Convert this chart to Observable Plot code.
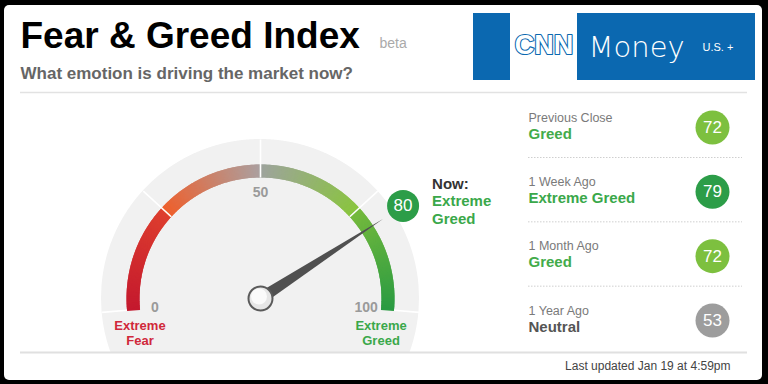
<!DOCTYPE html>
<html><head><meta charset="utf-8">
<script src="https://cdn.jsdelivr.net/npm/d3@7"></script>
<script src="https://cdn.jsdelivr.net/npm/@observablehq/plot@0.6"></script>
<style>
html,body{margin:0;padding:0;background:#000;}
#chart svg{display:block;}
</style></head><body><div id="chart"></div>
<script>
// ---------------- data ----------------
const titleText = "Fear & Greed Index";
const titleTag = "beta";
const subtitleText = "What emotion is driving the market now?";
const gaugeTicks = [0, 50, 100];
const gaugeDividers = [0, 25, 50, 75, 100];
const zoneValues = [0, 100];
const zoneLabels = ["Extreme\nFear", "Extreme\nGreed"];
const nowValue = 80;
const nowRating = "Extreme Greed";
const historyLabels = ["Previous Close", "1 Week Ago", "1 Month Ago", "1 Year Ago"];
const historyRatings = ["Greed", "Extreme Greed", "Greed", "Neutral"];
const historyValues = [72, 79, 72, 53];
const lastUpdated = "Last updated Jan 19 at 4:59pm";
const brandName = "CNN";
const brandProduct = "Money";
const brandEdition = "U.S. +";

// ---------------- styles & layout ----------------
const FONT = "Liberation Sans, Arial, Helvetica, sans-serif";
const BLUE = "#0b68b0";
const ratingFill = {"Extreme Fear": "#c8202f", "Fear": "#e8602c", "Neutral": "#9d9d9d", "Greed": "#7dc03f", "Extreme Greed": "#2c9d48"};
const ratingText = {"Extreme Fear": "#cf2a3a", "Fear": "#e8602c", "Neutral": "#555555", "Greed": "#43ab4b", "Extreme Greed": "#3aa84a"};
const zoneText = ["#d0283a", "#3aa84a"];
const C = {x: 260, y: 298};
const R = {disc: 159, arcOuter: 134, arcInner: 121, tick: 106, needle: 146, bubble: 170};
const BOTTOM_LINE = 352;
const angle = d3.scaleLinear().domain([0, 100]).range([185, -5]); // degrees, counter-clockwise from east
const polar = (v, r) => { const a = angle(v) * Math.PI / 180; return [C.x + r * Math.cos(a), C.y - r * Math.sin(a)]; };
const arcColor = v => v < 25 ? d3.interpolateRgb("#c4192e", "#de3f2f")(v / 25)
  : v < 50 ? d3.interpolateRgb("#ef5f2c", "#aba0a0")((v - 25) / 25)
  : v < 75 ? d3.interpolateRgb("#9ea39e", "#8ac53f")((v - 50) / 25)
  : d3.interpolateRgb("#76ba3d", "#2a9b42")((v - 75) / 25);

// gauge track samples (geometry only)
const trackSamples = d3.range(0, 100.0001, 0.2);
const discSamples = d3.range(-R.disc, R.disc + 0.001, 0.5);
const rowY = d3.scalePoint().domain(d3.range(historyLabels.length)).range([127, 320]);
const bubble = polar(nowValue, R.bubble);

const chart = Plot.plot({
  width: 768, height: 384, margin: 0,
  x: {domain: [0, 768], axis: null},
  y: {domain: [0, 384], reverse: true, axis: null},
  style: {background: "#000", fontFamily: FONT},
  marks: [
    // white card
    Plot.rect([0], {x1: 4, x2: 762, y1: 5, y2: 380, fill: "white", rx: 5}),
    // header
    Plot.text([titleText], {x: 20, y: 47, text: d => d, textAnchor: "start", lineAnchor: "bottom", fontSize: 37, fontWeight: "bold", fill: "#000"}),
    Plot.text([titleTag], {x: 379, y: 47, text: d => d, textAnchor: "start", lineAnchor: "bottom", fontSize: 14, fill: "#aaa"}),
    Plot.text([subtitleText], {x: 20, y: 78, text: d => d, textAnchor: "start", lineAnchor: "bottom", fontSize: 17, fontWeight: "bold", fill: "#666"}),
    // brand logo
    Plot.rect([0], {x1: 473, x2: 510, y1: 13, y2: 80, fill: BLUE}),
    Plot.rect([0], {x1: 577, x2: 755, y1: 13, y2: 80, fill: BLUE}),
    Plot.text([brandName], {x: 543.5, y: 45, text: d => d, fontSize: 27, fontWeight: "bold", fill: "white", stroke: BLUE, strokeWidth: 2.2, letterSpacing: -3}),
    Plot.text([brandProduct], {x: 588, y: 56, text: d => d, textAnchor: "start", lineAnchor: "bottom", fontSize: 29, fontFamily: "DejaVu Sans", fontWeight: 300, letterSpacing: 1, fill: "white"}),
    Plot.text([brandEdition], {x: 702, y: 50, text: d => d, textAnchor: "start", lineAnchor: "bottom", fontSize: 11, fill: "white"}),
    // separators
    Plot.ruleY([92], {x1: 20, x2: 747, stroke: "#e2e2e2", strokeWidth: 1.5}),
    // gauge background disc (clipped at bottom line)
    Plot.area(discSamples, {x1: d => C.x + d, y1: d => C.y - Math.sqrt(R.disc * R.disc - d * d), y2: d => Math.min(C.y + Math.sqrt(R.disc * R.disc - d * d), BOTTOM_LINE), fill: "#f1f1f1"}),
    // coloured arc
    Plot.link(trackSamples, {x1: v => polar(v, R.arcInner)[0], y1: v => polar(v, R.arcInner)[1], x2: v => polar(v, R.arcOuter)[0], y2: v => polar(v, R.arcOuter)[1], stroke: arcColor, strokeWidth: 1.8}),
    // dividers
    Plot.link(gaugeDividers, {x1: v => polar(v, v % 100 === 0 ? R.arcOuter : R.arcInner)[0], y1: v => polar(v, v % 100 === 0 ? R.arcOuter : R.arcInner)[1], x2: v => polar(v, R.disc)[0], y2: v => polar(v, R.disc)[1], stroke: "white", strokeWidth: 1.6}),
    Plot.ruleY([BOTTOM_LINE], {x1: 20, x2: 747, stroke: "#e0e0e0", strokeWidth: 2}),
    // tick labels
    Plot.text(gaugeTicks, {x: v => polar(v, R.tick)[0], y: v => polar(v, R.tick)[1], text: v => String(v), fontSize: 14, fontWeight: "bold", fill: "#9a9a9a"}),
    // zone labels
    Plot.text(zoneValues, {x: v => polar(v, R.arcInner)[0], y: v => polar(v, R.arcInner)[1] + 10.5, text: (v, i) => zoneLabels[i], lineAnchor: "top", lineHeight: 1.15, fontSize: 13, fontWeight: "bold", fill: (v, i) => zoneText[i]}),
    // needle
    Plot.vector([nowValue], {x: C.x, y: C.y, length: R.needle, rotate: 90 - angle(nowValue), shape: "spike", r: 6, anchor: "start", fill: "#505050", stroke: "none"}),
    Plot.dot([nowValue], {x: C.x, y: C.y, r: 12, fill: "#e6e6e6", stroke: "#5a5a5a", strokeWidth: 2}),
    Plot.dot([nowValue], {x: C.x - 1.5, y: C.y - 2, r: 8, fill: "#fafafa", stroke: "none"}),
    // current value bubble
    Plot.dot([nowValue], {x: bubble[0], y: bubble[1], r: 16, fill: ratingFill[nowRating]}),
    Plot.text([nowValue], {x: bubble[0], y: bubble[1], text: d => String(d), fontSize: 17, fill: "white"}),
    Plot.text(["Now:"], {x: bubble[0] + 29, y: 188, text: d => d, textAnchor: "start", lineAnchor: "bottom", fontSize: 15, fontWeight: "bold", fill: "#333"}),
    Plot.text([nowRating.replace(" ", "\n")], {x: bubble[0] + 29, y: 223, text: d => d, textAnchor: "start", lineAnchor: "bottom", lineHeight: 1.15, fontSize: 15, fontWeight: "bold", fill: ratingText[nowRating]}),
    // history panel
    Plot.ruleY(d3.range(historyLabels.length - 1), {y: i => rowY(i) + 30, x1: 528, x2: 742, stroke: "#cfcfcf", strokeDasharray: "1.5,1.5"}),
    Plot.text(historyLabels, {x: 528, y: (d, i) => rowY(i) - 6, text: d => d, textAnchor: "start", lineAnchor: "bottom", fontSize: 12.5, fill: "#7a7a7a"}),
    Plot.text(historyRatings, {x: 528, y: (d, i) => rowY(i) + 11, text: d => d, textAnchor: "start", lineAnchor: "bottom", fontSize: 15, fontWeight: "bold", fill: d => ratingText[d]}),
    Plot.dot(historyValues, {x: 712, y: (d, i) => rowY(i), r: 17, fill: (d, i) => ratingFill[historyRatings[i]]}),
    Plot.text(historyValues, {x: 712, y: (d, i) => rowY(i), text: d => String(d), fontSize: 17, fill: "white"}),
    // footer
    Plot.text([lastUpdated], {x: 730, y: 369, text: d => d, textAnchor: "end", lineAnchor: "bottom", fontSize: 12, fill: "#444"})
  ]
});
document.getElementById("chart").append(chart);
</script></body></html>
